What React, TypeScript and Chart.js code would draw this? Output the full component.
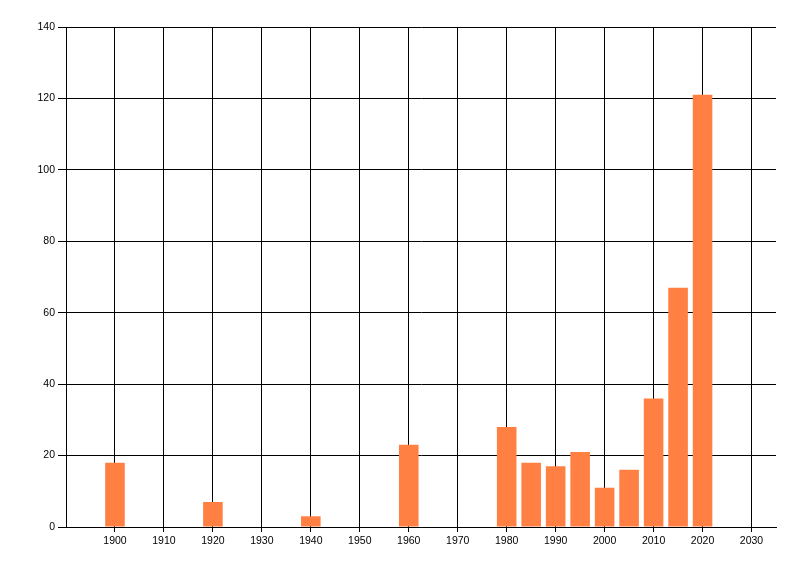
import React, { useEffect, useRef } from "react";
import { Chart, registerables } from "chart.js";

Chart.register(...registerables);

const years = [1900, 1920, 1940, 1960, 1980, 1985, 1990, 1995, 2000, 2005, 2010, 2015, 2020];
const counts = [18, 7, 3, 23, 28, 18, 17, 21, 11, 16, 36, 67, 121];
const xTickValues = [1900, 1910, 1920, 1930, 1940, 1950, 1960, 1970, 1980, 1990, 2000, 2010, 2020, 2030];
const xMin = 1890;
const xMax = 2035;
const yMin = 0;
const yMax = 140;
const yStep = 20;

const BAR_COLOR = "#FF8042";
const FONT = { family: "'Liberation Sans', Arial, sans-serif", size: 10.5 };

export default function App() {
  const ref = useRef<HTMLCanvasElement | null>(null);

  useEffect(() => {
    if (!ref.current) return;
    const chart = new Chart(ref.current, {
      type: "bar",
      data: {
        datasets: [
          {
            data: years.map((y, i) => ({ x: y, y: counts[i] })),
            backgroundColor: BAR_COLOR,
            borderWidth: 0,
            categoryPercentage: 1,
            barPercentage: 0.8,
          },
        ],
      },
      options: {
        responsive: false,
        animation: false,
        layout: { padding: { top: 27, right: 24, left: 0, bottom: 0 } },
        plugins: { legend: { display: false }, tooltip: { enabled: false } },
        scales: {
          x: {
            type: "linear",
            min: xMin,
            max: xMax,
            offset: false,
            ticks: {
              color: "#000",
              font: FONT,
              padding: 3,
              maxRotation: 0,
              autoSkip: false,
              callback: (v: any) => String(v),
            },
            grid: { color: "#000", lineWidth: 1, drawTicks: true, tickLength: 5, offset: false },
            border: { color: "#000", width: 1 },
            afterBuildTicks: (scale: any) => {
              scale.ticks = xTickValues.map((v) => ({ value: v }));
            },
            afterFit: (scale: any) => {
              scale.height = 49;
            },
          },
          y: {
            min: yMin,
            max: yMax,
            ticks: { stepSize: yStep, color: "#000", font: FONT, padding: 3, callback: (v: any) => String(v) },
            grid: { color: "#000", lineWidth: 1, drawTicks: true, tickLength: 8 },
            border: { color: "#000", width: 1 },
            afterFit: (scale: any) => {
              scale.width = 66;
            },
          },
        },
      },
    });
    return () => chart.destroy();
  }, []);

  return (
    <div style={{ position: "fixed", left: 0, top: 0, width: 800, height: 576, background: "#fff" }}>
      <canvas ref={ref} width={800} height={576} />
    </div>
  );
}
